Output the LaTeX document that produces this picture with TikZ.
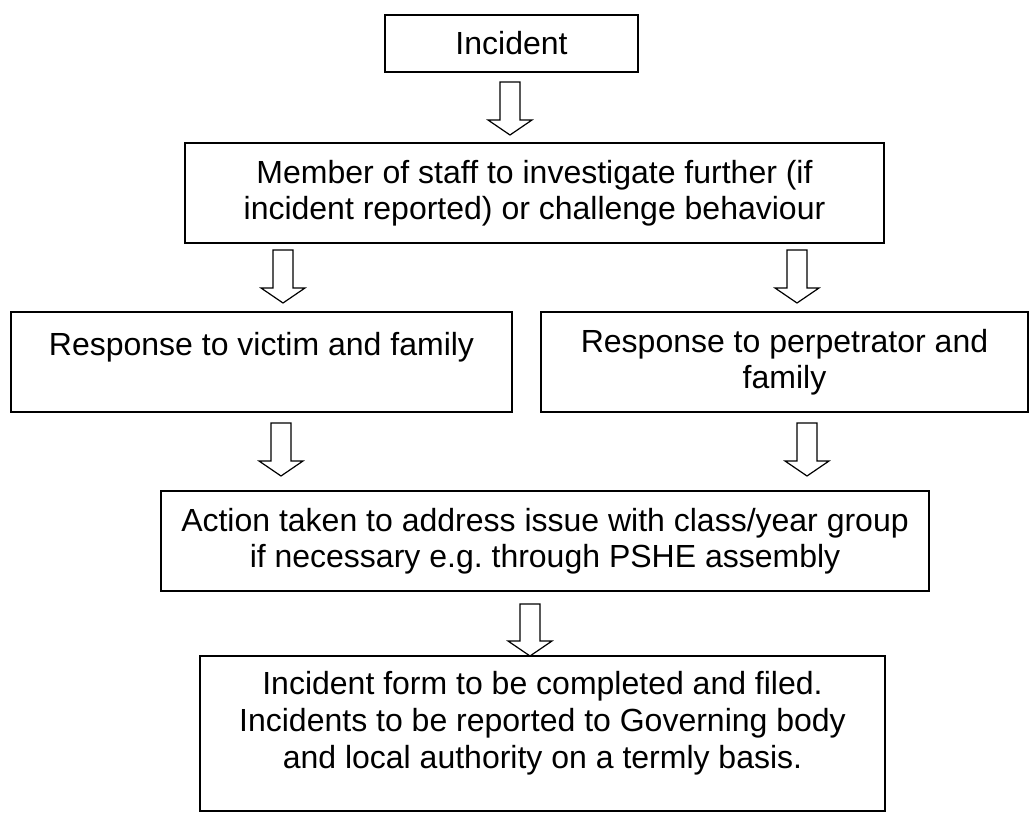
\documentclass[tikz,border=0pt]{standalone}
\usepackage{fontspec}
\setmainfont{Liberation Sans}
\usepackage{tikz}
\usetikzlibrary{calc}
\frenchspacing

\tikzset{
  box/.style={draw, line width=1.5pt, align=center, inner sep=0pt, font=\fontsize{24}{27.4}\selectfont},
  hollow/.style={draw, line width=0.9pt, line join=miter,
    to path={+(-10,0) -- +(10,0) -- ($(\tikztotarget)+(10,-15)$) -- ($(\tikztotarget)+(22,-15)$) -- (\tikztotarget) -- ($(\tikztotarget)+(-22,-15)$) -- ($(\tikztotarget)+(-10,-15)$) -- cycle}}
}

\begin{document}
\begin{tikzpicture}[x=0.75pt, y=-0.75pt]
% \draw[step=50] (0,0) grid (1029,816);
\useasboundingbox (0,0) rectangle (1029,816);
\node[box, minimum width=189.75pt, minimum height=42.75pt] (incident) at (511.5,43.5) {Incident};
\node[box, minimum width=524.25pt, minimum height=75pt] (staff) at (534.5,193) {Member of staff to investigate further (if\\incident reported) or challenge behaviour};
\node[box, minimum width=375.75pt, minimum height=75pt] (victim) at (261.5,362) {Response to victim and family\\\mbox{}};
\node[box, minimum width=365.25pt, minimum height=75pt] (perp) at (784.5,362) {Response to perpetrator and\\family};
\node[box, minimum width=576pt, minimum height=75pt] (action) at (545,541) {Action taken to address issue with class/year group\\if necessary e.g. through PSHE assembly};
\node[box, minimum width=513.75pt, minimum height=116.25pt] (form) at (542.5,733.5) {Incident form to be completed and filed.\\Incidents to be reported to Governing body\\and local authority on a termly basis.\\[-7pt]\mbox{}};
\draw[hollow] ($(incident.south -| 510,0)+(0,9)$) to ($(staff.north -| 510,0)+(0,-7)$);
\draw[hollow] ($(staff.south -| 283,0)+(0,6)$) to ($(victim.north -| 283,0)+(0,-8)$);
\draw[hollow] ($(staff.south -| 797,0)+(0,6)$) to ($(perp.north -| 797,0)+(0,-8)$);
\draw[hollow] ($(victim.south -| 281,0)+(0,10)$) to ($(action.north -| 281,0)+(0,-14)$);
\draw[hollow] ($(perp.south -| 807,0)+(0,10)$) to ($(action.north -| 807,0)+(0,-14)$);
\draw[hollow] ($(action.south -| 530,0)+(0,12)$) to ($(form.north -| 530,0)+(0,1)$);
\end{tikzpicture}
\end{document}
